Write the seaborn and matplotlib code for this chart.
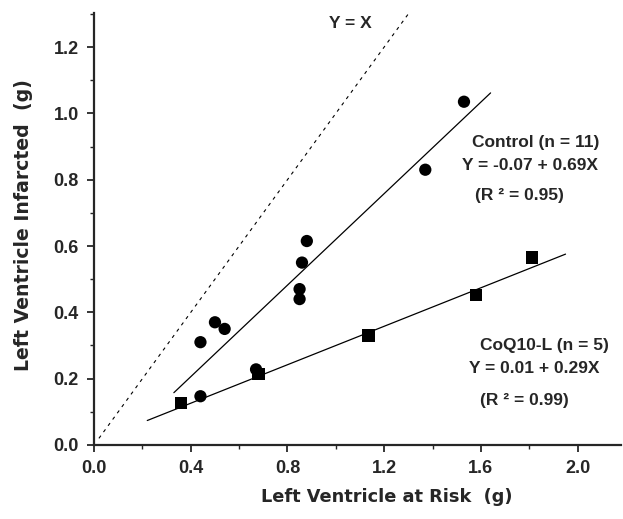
import numpy as np
import pandas as pd
import matplotlib.pyplot as plt
import seaborn as sns
from matplotlib.ticker import MultipleLocator

# Control group (circles)
control_x = [0.44, 0.50, 0.54, 0.85, 0.85, 0.86, 0.88, 1.37, 1.53, 0.44, 0.67]
control_y = [0.31, 0.37, 0.35, 0.47, 0.44, 0.55, 0.615, 0.83, 1.035, 0.147, 0.228]
# CoQ10-L group (squares)
coq_x = [0.36, 0.68, 1.135, 1.58, 1.81]
coq_y = [0.126, 0.215, 0.33, 0.452, 0.565]

# regression fits: intercept, slope, x range of the drawn line
control_fit = (-0.07, 0.69)
control_fit_range = [0.33, 1.64]
coq_fit = (0.01, 0.29)
coq_fit_range = [0.22, 1.95]
identity_range = [0.02, 1.30]

sns.set_style("ticks")
plt.rcParams['font.family'] = ['Liberation Sans', 'DejaVu Sans']
plt.rcParams['font.weight'] = 'bold'

df = pd.DataFrame({
    'x': control_x + coq_x,
    'y': control_y + coq_y,
    'group': ['Control'] * len(control_x) + ['CoQ10-L'] * len(coq_x),
})

fig = plt.figure(figsize=(6.23, 5.19), dpi=100)
ax = fig.add_axes([0.151, 0.1426, 0.846, 0.832])

sns.scatterplot(data=df, x='x', y='y', style='group', markers={'Control': 'o', 'CoQ10-L': 's'},
                color='black', s=78, edgecolor='black', linewidth=0, legend=False, ax=ax, zorder=3)

for (b0, b1), rng in [(control_fit, control_fit_range), (coq_fit, coq_fit_range)]:
    xs = np.array(rng)
    ax.plot(xs, b0 + b1 * xs, color='black', lw=0.9)

xs = np.array(identity_range)
ax.plot(xs, xs, color='black', lw=0.8, linestyle=(0, (3, 4)))

ax.set_xlim(0, 2.18)
ax.set_ylim(0, 1.302)
ax.xaxis.set_major_locator(MultipleLocator(0.4))
ax.xaxis.set_minor_locator(MultipleLocator(0.2))
ax.yaxis.set_major_locator(MultipleLocator(0.2))
ax.yaxis.set_minor_locator(MultipleLocator(0.1))
ax.xaxis.set_major_formatter(lambda v, p: f"{v:.1f}")
ax.yaxis.set_major_formatter(lambda v, p: f"{v:.1f}")

sns.despine(ax=ax)
for sp in ['left', 'bottom']:
    ax.spines[sp].set_linewidth(1.6)
ax.tick_params(which='major', length=5, width=1.3, labelsize=13, direction='out', pad=6)
ax.tick_params(which='minor', length=3, width=1.0, direction='out')
for lab in ax.get_xticklabels() + ax.get_yticklabels():
    lab.set_fontweight('bold')

ax.set_xlabel('Left Ventricle at Risk  (g)', fontsize=12.8, fontweight='bold', family=['DejaVu Sans'])
ax.set_ylabel('Left Ventricle Infarcted  (g)', fontsize=13.6, fontweight='bold', family=['DejaVu Sans'])
ax.xaxis.set_label_coords(0.556, -0.099)
ax.yaxis.set_label_coords(-0.116, 0.509)

kw = dict(fontsize=12.5, fontweight='bold', ha='left', va='baseline')
ax.text(0.97, 1.256, 'Y = X', **kw)
ax.text(1.564, 0.90, 'Control (n = 11)', **kw)
ax.text(1.521, 0.829, 'Y = -0.07 + 0.69X', **kw)
ax.text(1.576, 0.739, '(R \u00b2 = 0.95)', **kw)
ax.text(1.597, 0.286, 'CoQ10-L (n = 5)', **kw)
ax.text(1.549, 0.216, 'Y = 0.01 + 0.29X', **kw)
ax.text(1.597, 0.121, '(R \u00b2 = 0.99)', **kw)

fig.savefig('out.png', dpi=100)
